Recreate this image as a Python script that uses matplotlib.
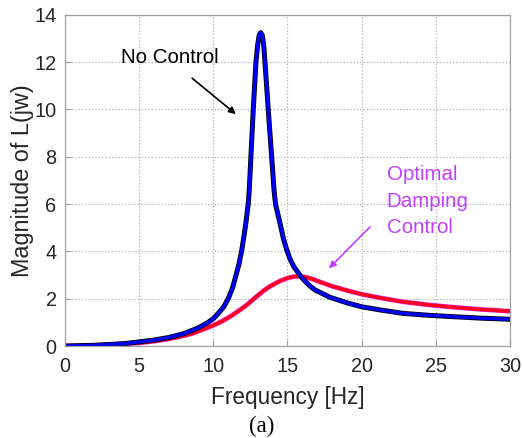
import matplotlib
matplotlib.use("Agg")
import matplotlib.pyplot as plt

freq_nc = [0, 2, 4, 6, 7, 8, 8.65, 9.1, 9.55, 10, 10.34, 10.7, 11.01, 11.3, 11.57, 11.75, 11.91,
           12.05, 12.2, 12.36, 12.43, 12.54, 12.7, 12.88, 13.0, 13.1, 13.2, 13.3, 13.4, 13.49,
           13.71, 13.94, 14.1, 14.2, 14.5, 14.75, 14.99, 15.2, 15.44, 15.96, 16.4, 16.86, 17.87,
           19, 20, 21.3, 22.8, 24.5, 26.2, 28, 30]
mag_nc = [0, 0.03, 0.1, 0.25, 0.36, 0.52, 0.68, 0.8, 0.96, 1.15, 1.38, 1.65, 2.0, 2.45, 3.07, 3.5, 4.0,
          4.55, 5.19, 6.0, 6.6, 8.0, 10.0, 12.0, 12.75, 13.15, 13.25, 13.15, 12.75, 12.0,
          10.0, 8.0, 6.6, 6.0, 5.19, 4.5, 4.0, 3.65, 3.35, 2.9, 2.6, 2.37, 2.06,
          1.83, 1.66, 1.52, 1.38, 1.3, 1.24, 1.18, 1.13]

freq_od = [0, 2, 4, 5, 6, 7, 8, 8.65, 9.1, 10, 10.6, 11.13, 11.7, 12.25, 12.8, 13.4, 13.82, 14.5,
           15.0, 15.4, 15.73, 16.2, 16.7, 17.2, 18, 19, 20, 21.3, 22.8, 24.5, 26.2, 28, 30]
mag_od = [0, 0.03, 0.09, 0.13, 0.2, 0.3, 0.43, 0.54, 0.65, 0.87, 1.05, 1.24, 1.48, 1.73, 2.03, 2.34,
          2.52, 2.75, 2.87, 2.93, 2.95, 2.92, 2.83, 2.71, 2.53, 2.35, 2.19, 2.03, 1.87, 1.74, 1.64,
          1.55, 1.47]

xticks = [0, 5, 10, 15, 20, 25, 30]
yticks = [0, 2, 4, 6, 8, 10, 12, 14]

plt.rcParams['font.family'] = ['Liberation Sans', 'DejaVu Sans']
fig = plt.figure(figsize=(5.23, 4.38), dpi=100)
ax = fig.add_axes([0.124, 0.21, 0.851, 0.756])

ax.plot(freq_od, mag_od, color='#e030f0', lw=3.4, solid_joinstyle='round')
ax.plot(freq_od, mag_od, color='#ff0022', lw=2.6, solid_joinstyle='round')
ax.plot(freq_nc, mag_nc, color='black', lw=3.6, solid_joinstyle='round')
ax.plot(freq_nc, mag_nc, color='#0000f0', lw=2.5, solid_joinstyle='round')

ax.set_xlim(0, 30)
ax.set_ylim(0, 14)
ax.set_xticks(xticks)
ax.set_yticks(yticks)
ax.grid(True, linestyle=':', color='#b0b0b0', lw=0.9)
for s in ax.spines.values():
    s.set_color('#a0a0a0')
    s.set_linewidth(0.9)
ax.tick_params(direction='in', length=4, color='#a0a0a0', labelsize=14.3, labelcolor='#262626',
               top=False, right=False)
ax.tick_params(axis='x', pad=8)
ax.tick_params(axis='y', pad=6)
ax.set_xlabel('Frequency [Hz]', fontsize=16.3, color='#262626', va='center')
ax.set_ylabel('Magnitude of L(jw)', fontsize=16.8, color='#262626', va='center')
ax.xaxis.set_label_coords(0.5, -0.154)
ax.yaxis.set_label_coords(-0.095, 0.5)

ax.annotate('', xy=(11.67, 9.73), xytext=(8.43, 11.4),
            arrowprops=dict(arrowstyle='-|>', color='black', lw=1.2, mutation_scale=10))
ax.text(7.08, 12.2, 'No Control', fontsize=14.8, ha='center', va='center', color='black')

purple = '#c040ff'
ax.annotate('', xy=(17.67, 3.2), xytext=(20.7, 5.12),
            arrowprops=dict(arrowstyle='-|>', color=purple, lw=1.2, mutation_scale=10))
ax.text(21.7, 6.13, 'Optimal\nDamping\nControl', fontsize=14.8, ha='left', va='center',
        color=purple, linespacing=1.5)

fig.text(0.5, 0.027, '(a)', fontsize=16.5, ha='center', va='center', family='Liberation Serif')

fig.savefig('out.png', dpi=100)
